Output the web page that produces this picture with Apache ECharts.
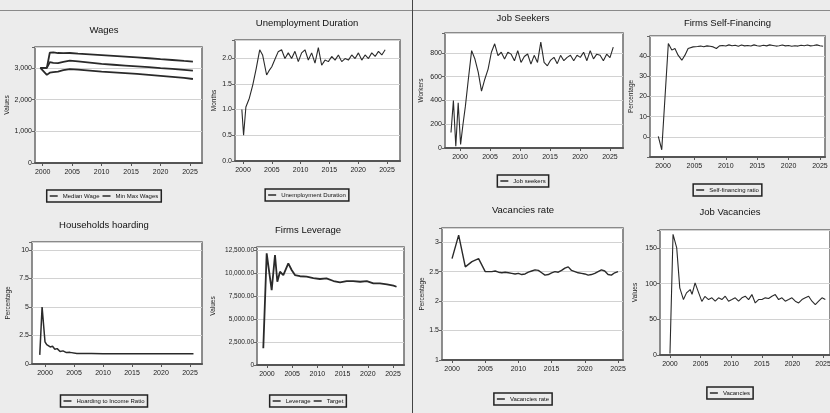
<!DOCTYPE html>
<html><head><meta charset="utf-8">
<script src="https://cdn.jsdelivr.net/npm/echarts@6/dist/echarts.min.js"></script>
<style>
html,body{margin:0;padding:0;background:#ececec;width:830px;height:413px;overflow:hidden;position:relative}
.p{position:absolute}
#hline{position:absolute;left:0;top:10px;width:830px;height:0;border-top:1.5px solid #8a8a8a}
#vline{position:absolute;left:412px;top:0;width:0;height:413px;border-left:1.5px solid #444}
</style></head><body>
<div id="hline"></div><div id="vline"></div>
<div id="c1" class="p" style="left:0;top:0;width:208px;height:207px"></div>
<div id="c2" class="p" style="left:208px;top:0;width:198px;height:207px"></div>
<div id="c3" class="p" style="left:415px;top:0;width:216px;height:207px"></div>
<div id="c4" class="p" style="left:625px;top:0;width:205px;height:207px"></div>
<div id="c5" class="p" style="left:0;top:200px;width:208px;height:213px"></div>
<div id="c6" class="p" style="left:208px;top:200px;width:200px;height:213px"></div>
<div id="c7" class="p" style="left:415px;top:200px;width:216px;height:213px"></div>
<div id="c8" class="p" style="left:630px;top:200px;width:200px;height:213px"></div>
<script>
// ---------- tick labels ----------
const yearTicks = [2000, 2005, 2010, 2015, 2020, 2025];

// ---------- Wages ----------
const wageYears  = [1999.6, 2000.7, 2001.2, 2001.8, 2002.6, 2003.5, 2004.6, 2006, 2008, 2010, 2012, 2014, 2016, 2018, 2020, 2022, 2024, 2025.5];
const wageMax    = [3000, 3000, 3480, 3490, 3470, 3465, 3470, 3450, 3430, 3405, 3380, 3355, 3330, 3305, 3275, 3250, 3220, 3200];
const wageMedian = [3000, 3000, 3180, 3160, 3150, 3190, 3230, 3205, 3170, 3125, 3100, 3075, 3050, 3025, 2995, 2970, 2940, 2915];
const wageMin    = [3000, 2780, 2850, 2870, 2885, 2930, 2965, 2945, 2915, 2885, 2860, 2835, 2810, 2780, 2750, 2720, 2685, 2650];

// ---------- Unemployment Duration ----------
const unempEarlyYears  = [1999.8, 2000.1, 2000.5, 2001.1, 2001.7, 2002.3, 2002.9, 2003.4, 2004.1, 2004.5, 2005.0, 2005.6, 2006.1];
const unempEarlyValues = [1.0, 0.5, 1.05, 1.22, 1.48, 1.8, 2.16, 2.06, 1.67, 1.75, 1.83, 1.99, 2.12];
const unempStart = 2006.7, unempStep = 0.58;
const unempValues = [2.16, 1.99, 2.1, 1.99, 2.13, 1.93, 2.1, 2.16, 1.96, 2.1, 1.9, 2.2, 1.86, 1.96, 1.93, 2.03,
                     1.96, 2.06, 1.93, 1.99, 1.96, 2.06, 1.99, 2.1, 1.96, 2.06, 1.99, 2.1, 2.03, 2.13, 2.06, 2.16];

// ---------- Job Seekers ----------
const seekEarlyYears  = [1998.5, 1998.9, 1999.3, 1999.7, 2000.1, 2000.5, 2000.9];
const seekEarlyValues = [130, 400, 15, 380, 30, 200, 352];
const seekStart = 2001.39, seekStep = 0.549;
const seekValues = [579, 820, 749, 638, 479, 579, 664, 806, 877, 777, 806, 749, 806, 790, 734, 820, 720, 770, 791, 706,
                    780, 720, 891, 720, 692, 740, 763, 710, 780, 735, 763, 780, 735, 780, 763, 806, 735, 820, 750, 790,
                    780, 734, 790, 760, 849];

// ---------- Firms Self-Financing ----------
const selfEarlyYears  = [1999.25, 1999.8, 2000.85, 2001.4, 2001.9, 2002.4, 2003.0, 2003.5, 2004.0, 2004.8];
const selfEarlyValues = [0.2, -6.4, 46.3, 43, 43.8, 40.5, 38, 40.5, 43.8, 44.6];
const selfStart = 2005.5, selfStep = 0.5;
const selfValues = [44.8, 45.0, 44.7, 45.1, 44.9, 44.6, 43.8, 45.1, 45.3, 45.0, 45.6, 45.2, 45.4, 44.9, 45.5, 45.1, 45.3, 45.0, 45.6, 45.2,
                    45.0, 45.4, 45.1, 45.6, 45.3, 45.0, 45.2, 45.5, 45.1, 45.3, 44.9, 45.2, 45.0, 45.4, 45.2, 45.5, 45.1, 45.3, 45.6, 45.2, 44.9];

// ---------- Households hoarding ----------
const hoardYears  = [1999.1, 1999.5, 2000.0, 2000.3, 2000.6, 2000.9, 2001.3, 2001.7, 2002.1, 2002.6, 2003.1, 2003.7, 2004.3, 2005.5, 2008, 2010, 2015, 2020, 2025.6];
const hoardValues = [0.8, 5.0, 1.95, 1.7, 1.8, 1.5, 1.55, 1.3, 1.35, 1.1, 1.15, 1.0, 1.02, 0.93, 0.92, 0.9, 0.9, 0.9, 0.9];

// ---------- Firms Leverage ----------
const levYears  = [1999.27, 1999.94, 2000.93, 2001.59, 2002.05, 2002.58, 2003.24, 2004.23, 2004.89, 2005.55, 2006.55, 2007.87, 2009.19,
                   2010.5, 2011.8, 2013.2, 2014.5, 2015.8, 2017.1, 2018.5, 2019.8, 2021.1, 2022.4, 2023.8, 2025.1, 2025.7];
const levValues = [1815, 12140, 8150, 11960, 9050, 10140, 9780, 11050, 10330, 9780, 9650, 9600, 9450,
                   9350, 9420, 9130, 8990, 9130, 9130, 9050, 9130, 8880, 8880, 8770, 8620, 8510];
const targetValues = [];

// ---------- Vacancies rate ----------
const vrEarlyYears  = [2000, 2001, 2002, 2003, 2004, 2005];
const vrEarlyValues = [2.72, 3.12, 2.58, 2.67, 2.72, 2.5];
const vrStart = 2005.5, vrStep = 0.5;
const vrValues = [2.5, 2.5, 2.51, 2.49, 2.48, 2.49, 2.48, 2.47, 2.46, 2.47, 2.45, 2.46, 2.49, 2.51, 2.53, 2.52, 2.48, 2.44, 2.45, 2.48,
                  2.5, 2.49, 2.52, 2.56, 2.58, 2.52, 2.5, 2.48, 2.47, 2.46, 2.44, 2.45, 2.47, 2.5, 2.53, 2.51, 2.45, 2.44, 2.48, 2.5];

// ---------- Job Vacancies ----------
const jvEarlyYears  = [2000.0, 2000.5, 2001.1, 2001.6, 2002.2, 2002.7, 2003.3, 2003.6, 2004.1, 2004.6, 2005.2, 2005.7];
const jvEarlyValues = [2, 169, 150, 94, 77.6, 87, 91.6, 85, 101, 89, 75, 82];
const jvStart = 2006.3, jvStep = 0.545;
const jvValues = [77.6, 80, 75.3, 80, 77.6, 82.3, 75.3, 77.6, 80, 75.3, 80, 82.3, 77.6, 84.6, 72.9, 77.6, 77.6, 80,
                  79, 82.3, 84.6, 77.6, 80, 75.3, 77.6, 80, 75.3, 72.9, 77.6, 80, 82.3, 75.3, 70.6, 75.3, 80, 77.6];

// ---------- helpers ----------
const FONT = "'Liberation Sans','Roboto',sans-serif";
function pairs(xs, ys) { return xs.map((x, i) => [x, ys[i]]); }
function onGrid(start, step, vals) { return vals.map((v, i) => [Math.round((start + i * step) * 1000) / 1000, v]); }
function labelMap(list) { const m = {}; list.forEach(([v, t]) => m[v] = t); return v => (v in m ? m[v] : ''); }

function panel(id, c) {
  const chart = echarts.init(document.getElementById(id), null, {renderer: 'canvas'});
  chart.setOption({
    animation: false,
    textStyle: {fontFamily: FONT},
    title: {text: c.title, left: 'center', top: c.titleTop, padding: 0,
            textStyle: {fontSize: 9.5, fontWeight: 'normal', color: '#111', fontFamily: FONT}},
    legend: {left: 'center', top: c.legendTop, data: c.legend, borderColor: '#222', borderWidth: 1.5,
             padding: [3, 3], icon: 'rect', itemWidth: 8, itemHeight: 1.5, itemGap: 3, selectedMode: false,
             textStyle: {fontSize: 6, color: '#111', fontFamily: FONT}},
    grid: {left: c.grid[0], top: c.grid[1], width: c.grid[2], height: c.grid[3], show: true,
           containLabel: false, outerBoundsMode: 'none',
           backgroundColor: '#ffffff', borderColor: '#6a6a6a', borderWidth: 1.5},
    xAxis: {type: 'value', min: c.x[0], max: c.x[1],
            axisLine: {show: true, onZero: false, lineStyle: {color: '#555', width: 2}},
            axisTick: {show: true, customValues: yearTicks, length: 3, lineStyle: {color: '#555'}},
            axisLabel: {customValues: yearTicks, formatter: v => String(v), fontSize: 7, color: '#222', margin: 6, fontFamily: FONT},
            splitLine: {show: false}},
    yAxis: {type: 'value', min: c.y[0], max: c.y[1], interval: c.y[2],
            name: c.yName, nameLocation: 'middle', nameGap: c.nameGap, nameMoveOverlap: false,
            nameTextStyle: {fontSize: 6.5, color: '#222', fontFamily: FONT},
            axisLine: {show: false}, axisTick: {show: true, length: 3, lineStyle: {color: '#666'}},
            axisLabel: {formatter: labelMap(c.yLabels), fontSize: c.ySize || 7, color: '#222', margin: 3, fontFamily: FONT},
            splitLine: {show: true, lineStyle: {color: '#d2d2d2', width: 1}}},
    series: c.series.map(s => ({type: 'line', name: s.name, data: s.data, symbol: 'none', showSymbol: false,
      lineStyle: {color: '#2a2a2a', width: s.width || 1.1}, itemStyle: {color: '#2a2a2a'}}))
  });
}

panel('c1', {
  title: 'Wages', titleTop: 25, legendTop: 190, legend: ['Median Wage', 'Min Max Wages'],
  grid: [35, 47, 167, 116], x: [1998.69, 2027.04], y: [0, 3660, 1000], yName: 'Values', nameGap: 24,
  yLabels: [[0, '0'], [1000, '1,000'], [2000, '2,000'], [3000, '3,000']],
  series: [
    {name: 'Median Wage', data: pairs(wageYears, wageMedian), width: 1.8},
    {name: 'Min Max Wages', data: pairs(wageYears, wageMax), width: 1.8},
    {name: 'Min Max Wages', data: pairs(wageYears, wageMin), width: 1.8}
  ]
});

panel('c2', {
  title: 'Unemployment Duration', titleTop: 18, legendTop: 189, legend: ['Unemployment Duration'],
  grid: [27, 40, 165, 121], x: [1998.61, 2027.26], y: [0, 2.35, 0.5], yName: 'Months', nameGap: 17,
  yLabels: [[0, '0.0'], [0.5, '0.5'], [1, '1.0'], [1.5, '1.5'], [2, '2.0']],
  series: [{name: 'Unemployment Duration',
            data: pairs(unempEarlyYears, unempEarlyValues).concat(onGrid(unempStart, unempStep, unempValues))}]
});

panel('c3', {
  title: 'Job Seekers', titleTop: 13, legendTop: 175, legend: ['Job seekers'],
  grid: [30, 33, 178, 115], x: [1997.5, 2027.17], y: [0, 968, 200], yName: 'Workers', nameGap: 20,
  yLabels: [[0, '0'], [200, '200'], [400, '400'], [600, '600'], [800, '800']],
  series: [{name: 'Job seekers',
            data: pairs(seekEarlyYears, seekEarlyValues).concat(onGrid(seekStart, seekStep, seekValues))}]
});

panel('c4', {
  title: 'Firms Self-Financing', titleTop: 18, legendTop: 184, legend: ['Self-financing ratio'],
  grid: [25, 36, 175, 121], x: [1997.93, 2025.8], y: [-10, 50, 10], yName: 'Percentage', nameGap: 15,
  yLabels: [[0, '0'], [10, '10'], [20, '20'], [30, '30'], [40, '40']],
  series: [{name: 'Self-financing ratio',
            data: pairs(selfEarlyYears, selfEarlyValues).concat(onGrid(selfStart, selfStep, selfValues))}]
});

panel('c5', {
  title: 'Households hoarding', titleTop: 20, legendTop: 195, legend: ['Hoarding to Income Ratio'],
  grid: [32, 42, 170, 122], x: [1997.76, 2027.07], y: [0, 10.7, 2.5], yName: 'Percentage', nameGap: 20,
  yLabels: [[0, '0'], [2.5, '2.5'], [5, '5'], [7.5, '7.5'], [10, '10']],
  series: [{name: 'Hoarding to Income Ratio', data: pairs(hoardYears, hoardValues), width: 1.5}]
});

panel('c6', {
  title: 'Firms Leverage', titleTop: 25, legendTop: 195, legend: ['Leverage', 'Target'],
  grid: [49, 47, 147, 118], x: [1998.02, 2027.18], y: [0, 12830, 2500], yName: 'Values', nameGap: 40, ySize: 6.5,
  yLabels: [[0, '0'], [2500, '2,500.00'], [5000, '5,000.00'], [7500, '7,500.00'], [10000, '10,000.00'], [12500, '12,500.00']],
  series: [
    {name: 'Leverage', data: pairs(levYears, levValues), width: 1.8},
    {name: 'Target', data: targetValues, width: 1.8}
  ]
});

panel('c7', {
  title: 'Vacancies rate', titleTop: 5, legendTop: 193, legend: ['Vacancies rate'],
  grid: [27, 28, 181, 132], x: [1998.49, 2025.75], y: [1, 3.24, 0.5], yName: 'Percentage', nameGap: 16,
  yLabels: [[1, '1'], [1.5, '1.5'], [2, '2'], [2.5, '2.5'], [3, '3']],
  series: [{name: 'Vacancies rate',
            data: pairs(vrEarlyYears, vrEarlyValues).concat(onGrid(vrStart, vrStep, vrValues)), width: 1.4}]
});

panel('c8', {
  title: 'Job Vacancies', titleTop: 7, legendTop: 187, legend: ['Vacancies'],
  grid: [30, 30, 170, 125], x: [1998.37, 2026.14], y: [0, 175, 50], yName: 'Values', nameGap: 21,
  yLabels: [[0, '0'], [50, '50'], [100, '100'], [150, '150']],
  series: [{name: 'Vacancies',
            data: pairs(jvEarlyYears, jvEarlyValues).concat(onGrid(jvStart, jvStep, jvValues))}]
});
</script>
</body></html>
